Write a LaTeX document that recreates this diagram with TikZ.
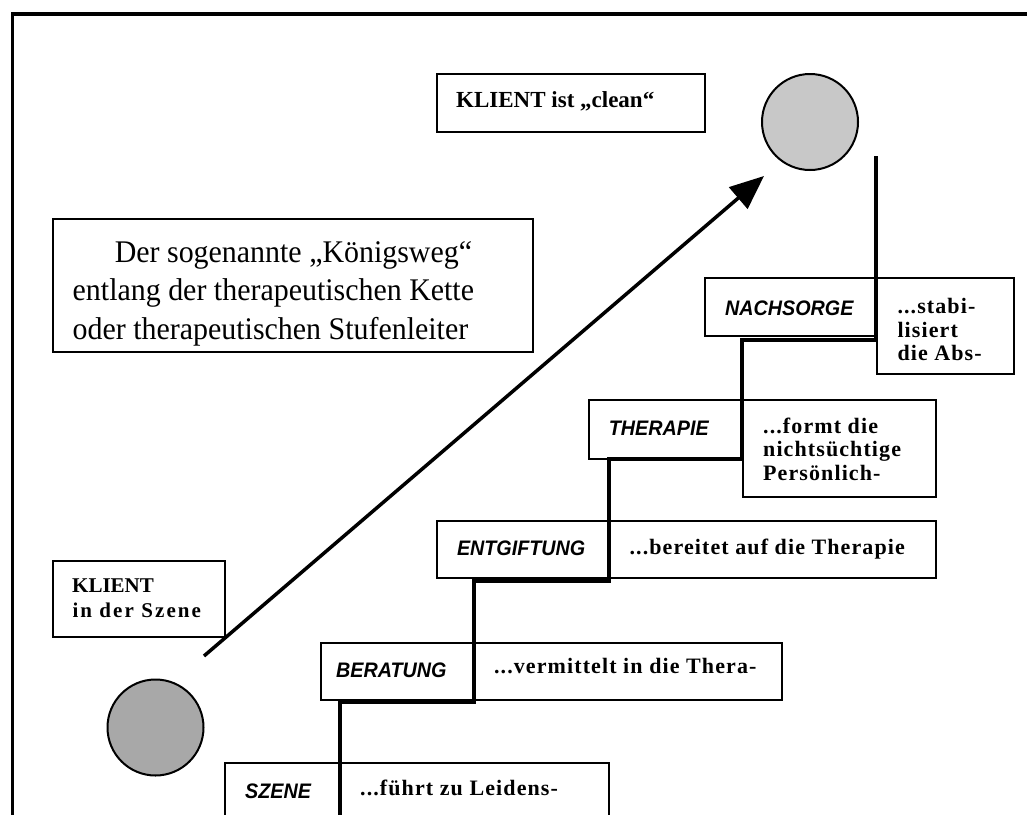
\documentclass[tikz,border=0pt]{standalone}
\usepackage{fontspec}
\setmainfont{Liberation Serif}
\newfontfamily\headfont{Liberation Sans}[FakeStretch=0.94]
\newfontfamily\spacedfont{Liberation Serif}[LetterSpace=5]
\newfontfamily\widefont{Liberation Serif}[LetterSpace=10]
\newfontfamily\bigfont{Liberation Serif}[FakeStretch=0.95]
\usetikzlibrary{arrows.meta}
\definecolor{lightdisk}{HTML}{C8C8C8}
\definecolor{darkdisk}{HTML}{A8A8A8}
\tikzset{
  box/.style={draw, line width=2pt, fill=white, inner sep=0pt, anchor=north west},
  txt/.style={anchor=base west, inner sep=0pt},
  head/.style={txt, font=\headfont\bfseries\itshape\fontsize{21}{24}\selectfont},
  desc/.style={txt, font=\spacedfont\bfseries\fontsize{22}{23.3}\selectfont},
  big/.style={txt, font=\bigfont\fontsize{31.5}{38}\selectfont},
  stepline/.style={line width=4pt, line join=miter},
  disk/.style={circle, draw, line width=2pt, inner sep=0pt, minimum size=96pt},
  arrowline/.style={line width=3.5pt, -{Triangle[length=34pt,width=28pt]}}
}
\begin{document}
\begin{tikzpicture}[x=1pt,y=-1pt]
\useasboundingbox (0,0) rectangle (1027,814);
\clip (0,0) rectangle (1027,814);
% outer frame
\coordinate (fa) at (12.5,830);
\coordinate (fb) at (12.5,14);
\coordinate (fc) at (1040,14);
\draw[line width=3.6pt] (fa) -- (fb) -- (fc);

% top label
\node[box, minimum width=268.3pt, minimum height=57.7pt] (clean) at (435.7,73.3) {};
\node[txt, font=\bfseries\fontsize{23}{27}\selectfont] (cleanT) at (456,107.7) {KLIENT ist „clean“};

% big text box
\node[box, minimum width=480.1pt, minimum height=133pt] (bigbox) at (51.7,218) {};
\node[big] (b1) at (114.6,262.4) {Der sogenannte „Königsweg“};
\node[big] (b2) at (72.5,300.7) {entlang der therapeutischen Kette};
\node[big] (b3) at (72.5,339) {oder therapeutischen Stufenleiter};

% klient box
\node[box, minimum width=172.5pt, minimum height=75.8pt] (kl) at (51.7,559.7) {};
\node[txt, font=\bfseries\fontsize{21}{24}\selectfont] (kl1) at (72,592) {KLIENT};
\node[txt, font=\widefont\bfseries\fontsize{21}{24}\selectfont] (kl2) at (72.3,617.3) {in der Szene};

% steps
\node[box, minimum width=172pt, minimum height=57.7pt] (nachL) at (704,277.3) {};
\node[box, minimum width=136.5pt, minimum height=96pt] (nachR) at (876,277.3) {};
\node[box, minimum width=154.3pt, minimum height=58.4pt] (thL) at (587.7,399.3) {};
\node[box, minimum width=192.8pt, minimum height=96.4pt] (thR) at (742,399.3) {};
\node[box, minimum width=172.5pt, minimum height=57.3pt] (enL) at (436.2,520) {};
\node[box, minimum width=326.1pt, minimum height=57.3pt] (enR) at (608.7,520) {};
\node[box, minimum width=154.2pt, minimum height=57.6pt] (beL) at (319.8,641.7) {};
\node[box, minimum width=306.6pt, minimum height=57.6pt] (beR) at (474,641.7) {};
\node[box, minimum width=115.6pt, minimum height=80pt] (szL) at (224.1,761.7) {};
\node[box, minimum width=268.6pt, minimum height=80pt] (szR) at (339.7,761.7) {};

\node[head] (nachT) at (725,315) {NACHSORGE};
\node[desc] (nach1) at (897.3,313.3) {...stabi-};
\node[desc] (nach2) at (897.3,337.7) {lisiert};
\node[desc] (nach3) at (897.3,360) {die Abs-};

\node[head] (thT) at (608.7,435) {THERAPIE};
\node[desc] (th1) at (763,433.3) {...formt die};
\node[desc] (th2) at (763,456.7) {nichtsüchtige};
\node[desc] (th3) at (763,480) {Persönlich-};

\node[head] (enT) at (456.8,555.7) {ENTGIFTUNG};
\node[desc] (en1) at (629.4,554) {...bereitet auf die Therapie};

\node[head] (beT) at (335.9,677.3) {BERATUNG};
\node[desc] (be1) at (493.9,673.3) {...vermittelt in die Thera-};

\node[head] (szT) at (245,798.3) {SZENE};
\node[desc] (sz1) at (360,795) {...führt zu Leidens-};

% stair line
\coordinate (s0) at (876,156);
\coordinate (s1) at (876,340);
\coordinate (s2) at (742,340);
\coordinate (s3) at (742,458.7);
\coordinate (s4) at (608.7,458.7);
\coordinate (s5) at (608.7,581.3);
\coordinate (s6) at (474,581.3);
\coordinate (s7) at (474,701.7);
\coordinate (s8) at (339.7,701.7);
\coordinate (s9) at (339.7,830);
\draw[stepline] (s0) -- (s1) -- (s2) -- (s3) -- (s4) -- (s5) -- (s6) -- (s7) -- (s8) -- (s9);

% disks
\node[disk, fill=lightdisk] (goal) at (810,122) {};
\node[disk, fill=darkdisk] (start) at (155.5,727.5) {};

% arrow
\coordinate (a0) at (204,656);
\coordinate (a1) at (764,176);
\draw[arrowline] (a0) -- (a1);
\end{tikzpicture}
\end{document}
